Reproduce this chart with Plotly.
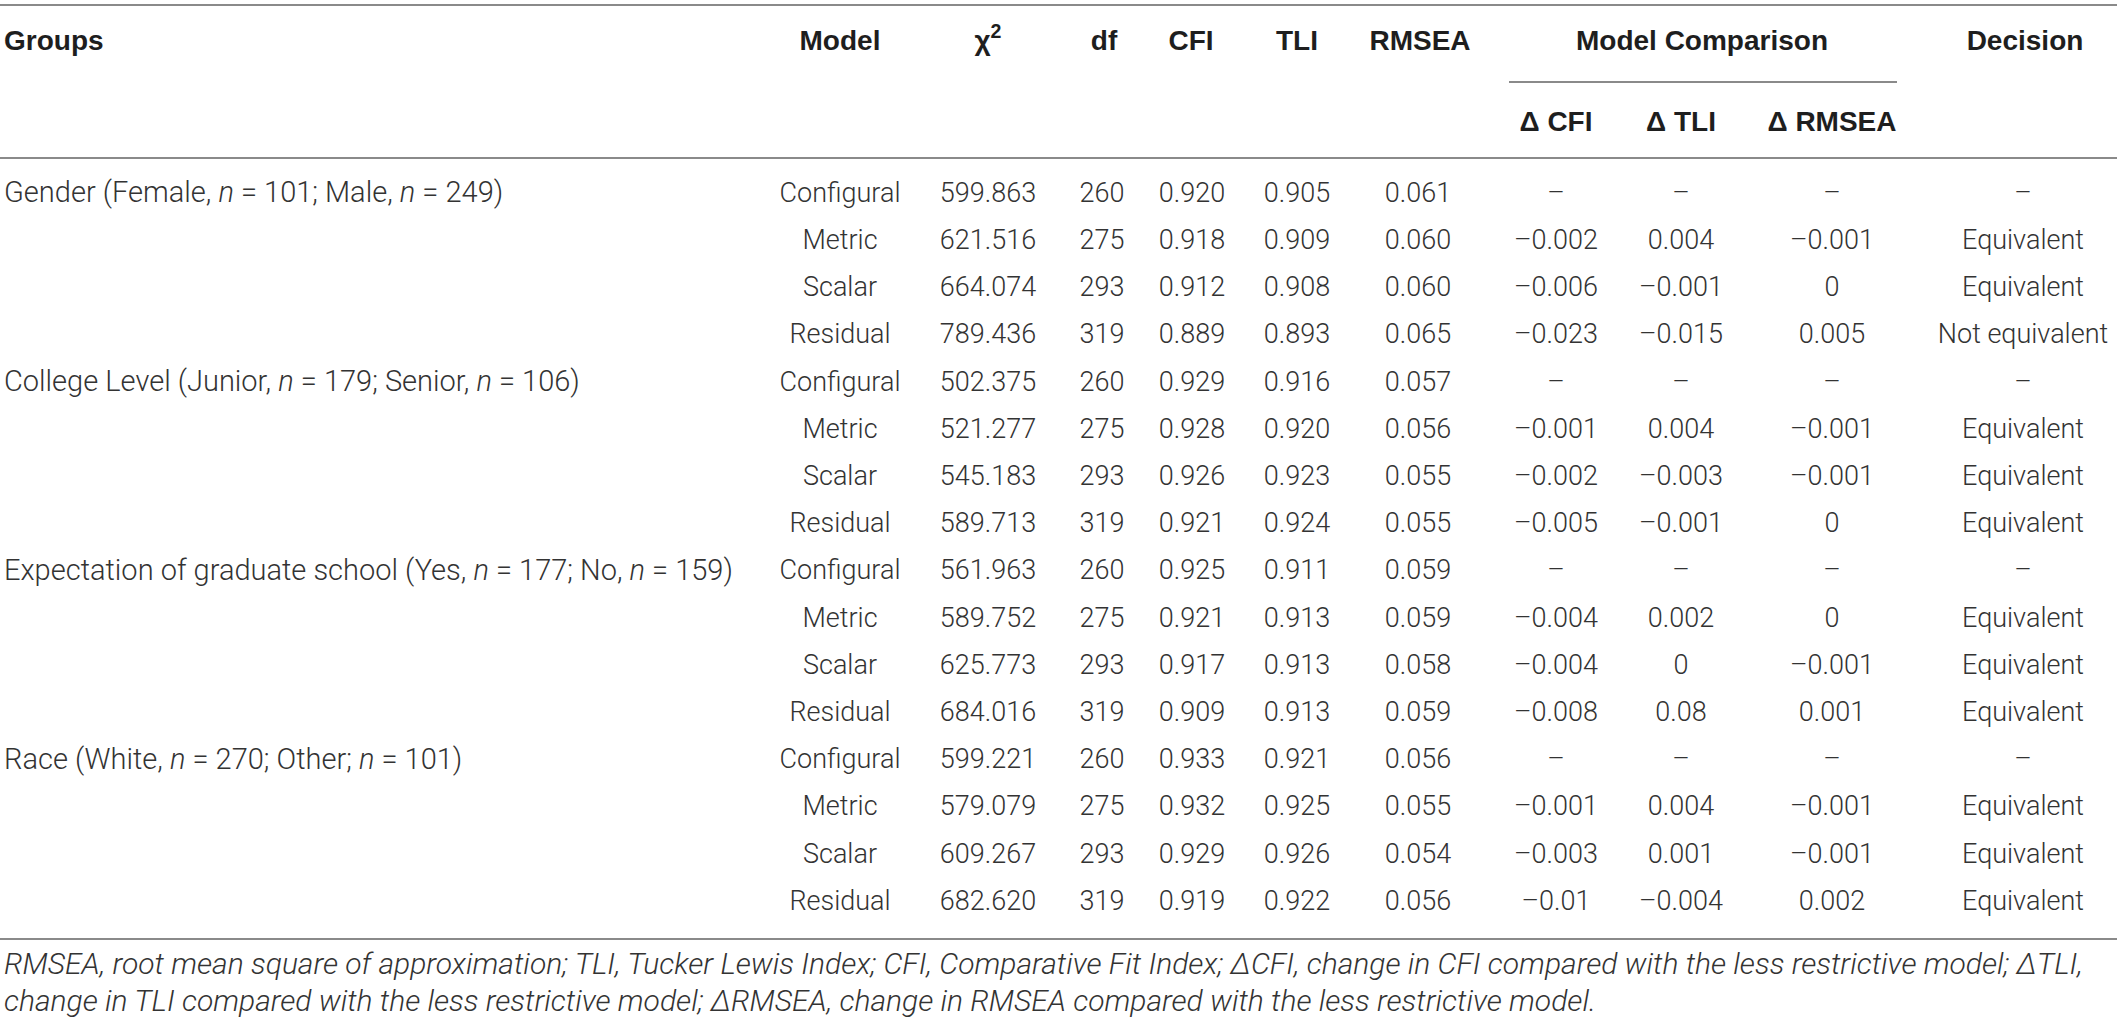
import plotly.graph_objects as go

# ---------------- data ----------------
groups = [
    "Gender (Female, <i>n</i> = 101; Male, <i>n</i> = 249)",
    "College Level (Junior, <i>n</i> = 179; Senior, <i>n</i> = 106)",
    "Expectation of graduate school (Yes, <i>n</i> = 177; No, <i>n</i> = 159)",
    "Race (White, <i>n</i> = 270; Other; <i>n</i> = 101)",
]
models = ["Configural", "Metric", "Scalar", "Residual",
          "Configural", "Metric", "Scalar", "Residual",
          "Configural", "Metric", "Scalar", "Residual",
          "Configural", "Metric", "Scalar", "Residual"]
chi2 = ["599.863", "621.516", "664.074", "789.436",
        "502.375", "521.277", "545.183", "589.713",
        "561.963", "589.752", "625.773", "684.016",
        "599.221", "579.079", "609.267", "682.620"]
dfs = ["260", "275", "293", "319", "260", "275", "293", "319",
       "260", "275", "293", "319", "260", "275", "293", "319"]
cfi = ["0.920", "0.918", "0.912", "0.889", "0.929", "0.928", "0.926", "0.921",
       "0.925", "0.921", "0.917", "0.909", "0.933", "0.932", "0.929", "0.919"]
tli = ["0.905", "0.909", "0.908", "0.893", "0.916", "0.920", "0.923", "0.924",
       "0.911", "0.913", "0.913", "0.913", "0.921", "0.925", "0.926", "0.922"]
rmsea = ["0.061", "0.060", "0.060", "0.065", "0.057", "0.056", "0.055", "0.055",
         "0.059", "0.059", "0.058", "0.059", "0.056", "0.055", "0.054", "0.056"]
d_cfi = ["–", "–0.002", "–0.006", "–0.023", "–", "–0.001", "–0.002", "–0.005",
         "–", "–0.004", "–0.004", "–0.008", "–", "–0.001", "–0.003", "–0.01"]
d_tli = ["–", "0.004", "–0.001", "–0.015", "–", "0.004", "–0.003", "–0.001",
         "–", "0.002", "0", "0.08", "–", "0.004", "0.001", "–0.004"]
d_rmsea = ["–", "–0.001", "0", "0.005", "–", "–0.001", "–0.001", "0",
           "–", "0", "–0.001", "0.001", "–", "–0.001", "–0.001", "0.002"]
decision = ["–", "Equivalent", "Equivalent", "Not equivalent",
            "–", "Equivalent", "Equivalent", "Equivalent",
            "–", "Equivalent", "Equivalent", "Equivalent",
            "–", "Equivalent", "Equivalent", "Equivalent"]

headers = ["Model", "χ<sup>2</sup>", "df", "CFI", "TLI", "RMSEA"]
sub_headers = ["Δ CFI", "Δ TLI", "Δ RMSEA"]
footnote = [
    "RMSEA, root mean square of approximation; TLI, Tucker Lewis Index; CFI, Comparative Fit Index; "
    "ΔCFI, change in CFI compared with the less restrictive model; ΔTLI,",
    "change in TLI compared with the less restrictive model; ΔRMSEA, change in RMSEA compared with "
    "the less restrictive model.",
]

# ---------------- layout constants ----------------
W, H = 2117, 1025
ROW0, ROW_H = 195, 47.2
HEAD_Y, SUB_Y = 43, 124
RULE_TOP, RULE_SUB, RULE_HEAD, RULE_BOT = 5, 82, 158, 939
SUB_X0, SUB_X1 = 1509, 1897
FOOT_Y = [966, 1003]
GROUP_X = 4
col_x = {"model": 840, "chi2": 988, "df": 1102, "cfi": 1192, "tli": 1297,
         "rmsea": 1418, "dcfi": 1556, "dtli": 1681, "drmsea": 1832, "dec": 2023}
head_x = [840, 988, 1104, 1191, 1297, 1420]
MC_X, DEC_X = 1702, 2025

FAM = "Roboto, 'Liberation Sans', sans-serif"
BODY = dict(family=FAM, size=27, color="#333333", weight=300)
GROUP_FONT = dict(family=FAM, size=29, color="#333333", weight=300)
FOOT = dict(family=FAM, size=30, color="#333333", weight=300)
HEAD = dict(family="'Liberation Sans', Arial, sans-serif", size=28, color="#1e1e1e", weight=700)
RULE_COLOR = "#8a8a8a"

n_rows = len(models)
row_y = [ROW0 + i * ROW_H for i in range(n_rows)]
group_y = [row_y[i * 4] for i in range(len(groups))]

fig = go.Figure()

def text_trace(x, y, text, font, pos="middle center"):
    fig.add_trace(go.Scatter(x=x, y=y, text=text, mode="text", textposition=pos,
                             textfont=font, hoverinfo="skip", showlegend=False, cliponaxis=False))

# group labels (left aligned)
text_trace([GROUP_X] * len(groups), group_y, groups, GROUP_FONT, "middle right")

# body columns
for key, vals in [("model", models), ("chi2", chi2), ("df", dfs), ("cfi", cfi), ("tli", tli),
                  ("rmsea", rmsea), ("dcfi", d_cfi), ("dtli", d_tli), ("drmsea", d_rmsea),
                  ("dec", decision)]:
    text_trace([col_x[key]] * n_rows, row_y, vals, BODY)

# headers
text_trace([GROUP_X], [HEAD_Y], ["Groups"], HEAD, "middle right")
text_trace(head_x, [HEAD_Y] * len(headers), headers, HEAD)
text_trace([MC_X, DEC_X], [HEAD_Y, HEAD_Y], ["Model Comparison", "Decision"], HEAD)
text_trace([col_x["dcfi"], col_x["dtli"], col_x["drmsea"]], [SUB_Y] * 3, sub_headers, HEAD)

# footnote
text_trace([GROUP_X] * 2, FOOT_Y, ["<i>%s</i>" % t for t in footnote], FOOT, "middle right")

# rules
for y0, x0, x1 in [(RULE_TOP, 0, W), (RULE_HEAD, 0, W), (RULE_BOT, 0, W), (RULE_SUB, SUB_X0, SUB_X1)]:
    fig.add_shape(type="line", xref="x", yref="y", x0=x0, x1=x1, y0=y0, y1=y0,
                  line=dict(color=RULE_COLOR, width=2))

fig.update_layout(
    width=W, height=H, margin=dict(l=0, r=0, t=0, b=0),
    paper_bgcolor="white", plot_bgcolor="white",
    xaxis=dict(range=[0, W], visible=False, fixedrange=True),
    yaxis=dict(range=[H, 0], visible=False, fixedrange=True),
)

fig.write_html("out.html", config={"displayModeBar": False},
               post_script="document.body.style.margin='0';document.body.style.overflow='hidden';")
